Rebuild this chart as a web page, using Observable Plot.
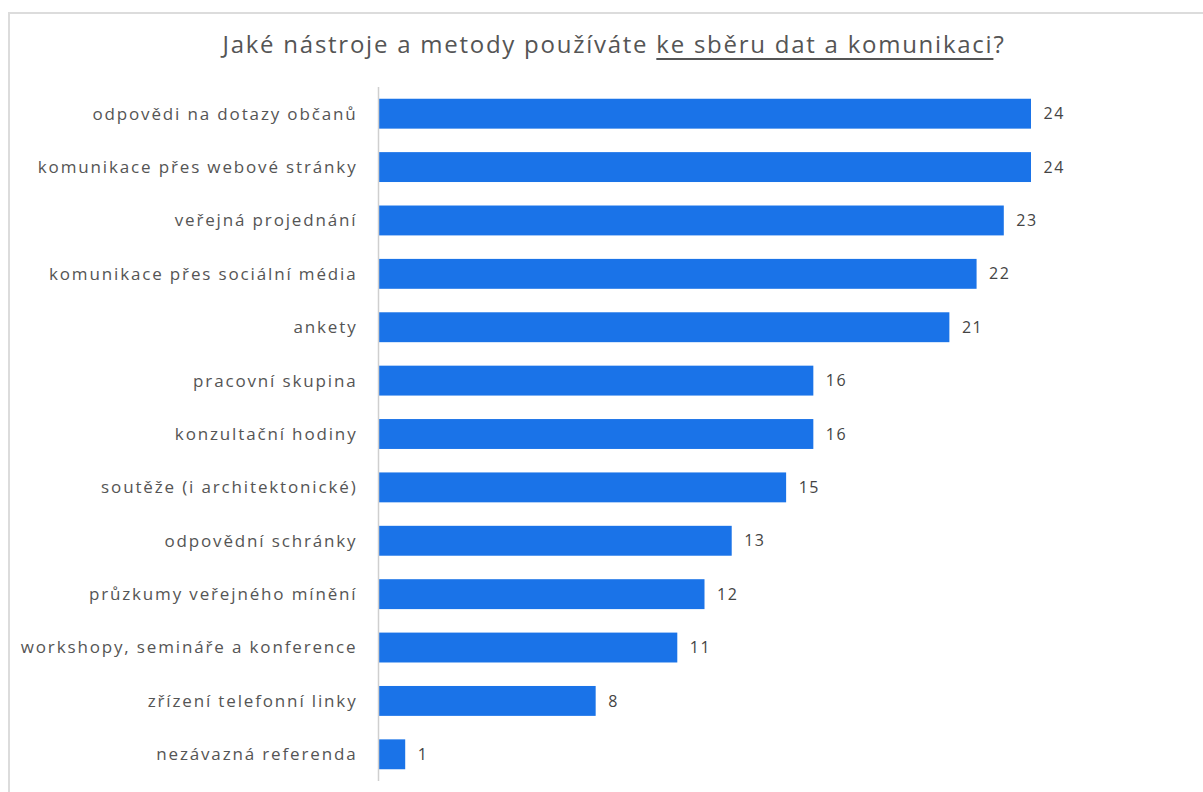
<!DOCTYPE html>
<html>
<head>
<meta charset="utf-8">
<script src="https://cdn.jsdelivr.net/npm/d3@7"></script>
<script src="https://cdn.jsdelivr.net/npm/@observablehq/plot@0.6"></script>
<style>
  html, body { margin: 0; padding: 0; background: #fff; width: 1203px; height: 792px; overflow: hidden; }
  #frame { position: absolute; left: 8px; top: 12px; width: 1210px; height: 800px;
           border-top: 2px solid #dcdcdc; border-left: 2px solid #dcdcdc; box-sizing: border-box; }
  #title { position: absolute; left: 0; top: 27px; width: 1228px; text-align: center;
           font-family: "Open Sans", sans-serif; font-size: 24px; color: #555; letter-spacing: 1.75px; }
  #title u { text-decoration-thickness: 2px; text-underline-offset: 5px; }
  #chart { position: absolute; left: 0; top: 70px; line-height: 0; }
  #chart g[aria-label="y-axis tick label"] text { letter-spacing: 1.85px; }
  #chart g[aria-label="text"] text { letter-spacing: 1.5px; }
</style>
</head>
<body>
<div id="frame"></div>
<div id="title">Jaké nástroje a metody používáte <u>ke sběru dat a komunikaci</u>?</div>
<div id="chart"></div>
<script>
const categories = [
  "odpovědi na dotazy občanů",
  "komunikace přes webové stránky",
  "veřejná projednání",
  "komunikace přes sociální média",
  "ankety",
  "pracovní skupina",
  "konzultační hodiny",
  "soutěže (i architektonické)",
  "odpovědní schránky",
  "průzkumy veřejného mínění",
  "workshopy, semináře a konference",
  "zřízení telefonní linky",
  "nezávazná referenda"
];
const values = [24, 24, 23, 22, 21, 16, 16, 15, 13, 12, 11, 8, 1];

const data = categories.map((c, i) => ({category: c, value: values[i]}));

const chart = Plot.plot({
  width: 1203,
  height: 722,
  marginLeft: 378,
  marginRight: 172,
  marginTop: 17,
  marginBottom: 11,
  style: {fontFamily: "'Open Sans', sans-serif", fontSize: "16px", color: "#555", background: "transparent"},
  x: {domain: [0, 24], axis: null},
  y: {domain: categories, paddingInner: 0.44, paddingOuter: 0.22, round: false, label: null},
  marks: [
    Plot.barX(data, {x: "value", y: "category", fill: "#1a73e8"}),
    Plot.ruleX([0], {stroke: "#cfcfcf", strokeWidth: 1.5}),
    Plot.axisY({tickSize: 0, tickPadding: 21, fontSize: 17, fill: "#555", label: null}),
    Plot.text(data, {x: "value", y: "category", text: d => String(d.value), textAnchor: "start",
                     dx: 12, fontSize: 16, fill: "#444"})
  ]
});
document.getElementById("chart").appendChild(chart);
</script>
</body>
</html>
